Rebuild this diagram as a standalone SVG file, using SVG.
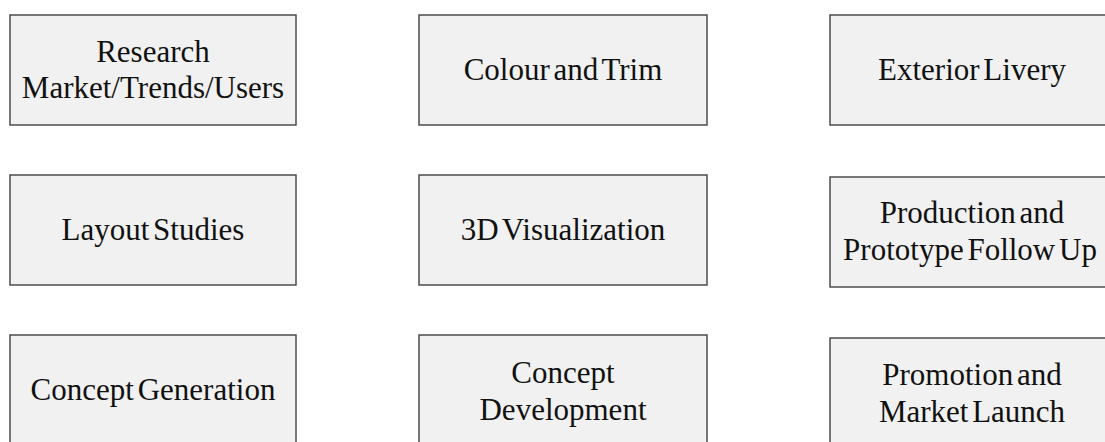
<svg xmlns="http://www.w3.org/2000/svg" width="1105" height="442" viewBox="0 0 1105 442">
  <style>
    .box { fill: #f1f1f1; stroke: #404040; stroke-width: 1.4; }
    .lbl { font-family: "Liberation Serif", "Times New Roman", serif; font-size: 31px; fill: #111; text-anchor: middle; word-spacing: -4px; }
  </style>
  <rect width="1105" height="442" fill="#ffffff"/>
  <g id="connectors"/>

  <!-- Row 1 -->
  <g id="research">
    <rect class="box" x="10" y="15" width="286" height="110"/>
    <text class="lbl" x="153" y="62">Research</text>
    <text class="lbl" x="153" y="98">Market/Trends/Users</text>
  </g>
  <g id="colour-trim">
    <rect class="box" x="419" y="15" width="288" height="110"/>
    <text class="lbl" x="563" y="80">Colour and Trim</text>
  </g>
  <g id="exterior-livery">
    <rect class="box" x="830" y="15" width="286" height="110"/>
    <text class="lbl" x="972" y="80">Exterior Livery</text>
  </g>

  <!-- Row 2 -->
  <g id="layout-studies">
    <rect class="box" x="10" y="175" width="286" height="110"/>
    <text class="lbl" x="153" y="240">Layout Studies</text>
  </g>
  <g id="visualization-3d">
    <rect class="box" x="419" y="175" width="288" height="110"/>
    <text class="lbl" x="563" y="240">3D Visualization</text>
  </g>
  <g id="production-prototype">
    <rect class="box" x="830" y="177" width="286" height="110"/>
    <text class="lbl" x="972" y="223">Production and</text>
    <text class="lbl" x="970" y="260">Prototype Follow Up</text>
  </g>

  <!-- Row 3 -->
  <g id="concept-generation">
    <rect class="box" x="10" y="335" width="286" height="110"/>
    <text class="lbl" x="153" y="400">Concept Generation</text>
  </g>
  <g id="concept-development">
    <rect class="box" x="419" y="335" width="288" height="110"/>
    <text class="lbl" x="563" y="383">Concept</text>
    <text class="lbl" x="563" y="420">Development</text>
  </g>
  <g id="promotion-launch">
    <rect class="box" x="830" y="338" width="286" height="110"/>
    <text class="lbl" x="972" y="385">Promotion and</text>
    <text class="lbl" x="972" y="422">Market Launch</text>
  </g>
</svg>
